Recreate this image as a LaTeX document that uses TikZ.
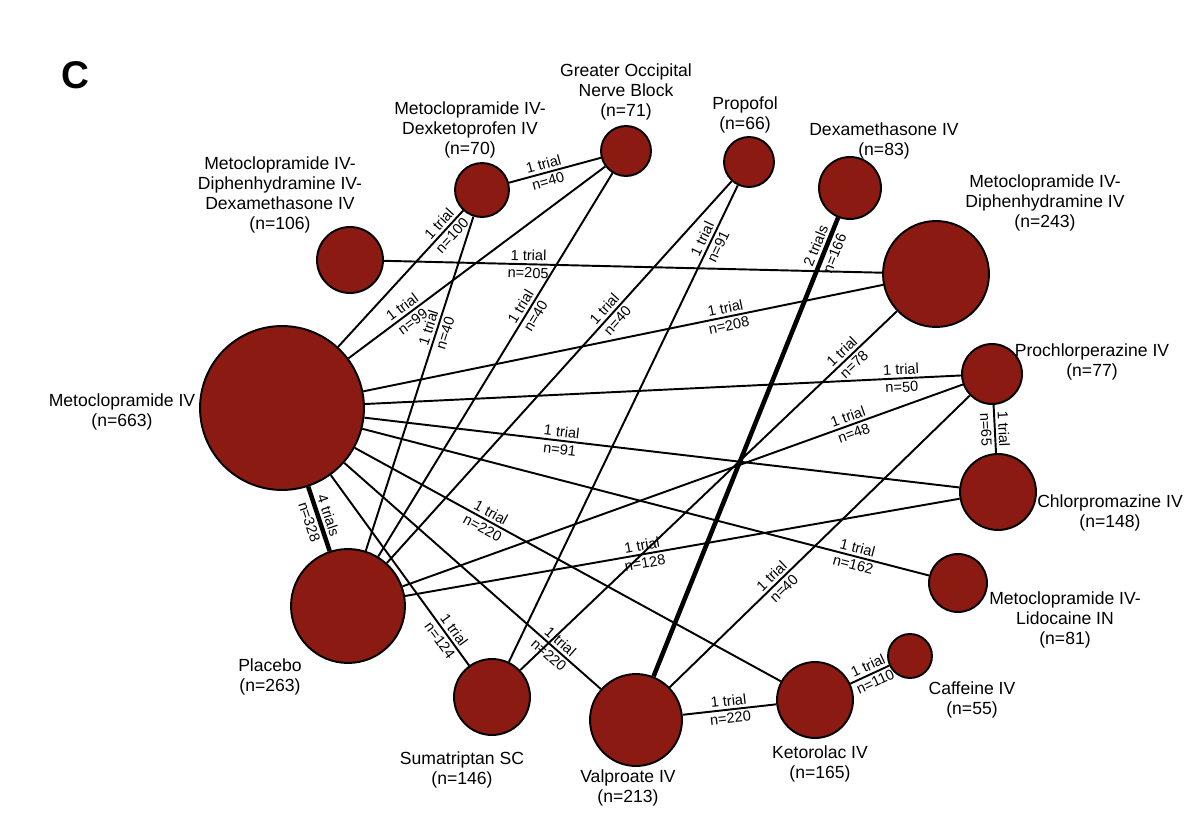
\documentclass[tikz,border=0pt]{standalone}
\usepackage{fontspec}
\setmainfont{Liberation Sans}
\definecolor{dred}{HTML}{8B1A12}
\begin{document}
\begin{tikzpicture}[x=0.02cm,y=-0.02cm,
  nd/.style={circle,draw=black,line width=1.1pt,fill=dred,minimum size=#1*0.04cm,inner sep=0pt},
  tx/.style={align=center,font=\fontsize{10}{11.5}\selectfont,inner sep=0pt},
  e/.style={line width=1.1pt},
  et/.style={line width=2.6pt},
  lab/.style={font=\fontsize{8.3}{9}\selectfont,sloped,inner sep=1.5pt}]
\useasboundingbox (0,0) rectangle (1200,837);
\node[font=\fontsize{22}{24}\selectfont\bfseries] (C) at (75,75) {C};
% nodes
\node[nd=82] (M) at (282,408) {};
\node[nd=57] (P) at (348,606) {};
\node[nd=38] (S) at (492,697) {};
\node[nd=46] (V) at (636,720) {};
\node[nd=38] (K) at (815,700) {};
\node[nd=22] (Cf) at (910,656) {};
\node[nd=29] (L) at (958,583) {};
\node[nd=38] (Ch) at (998,492) {};
\node[nd=30] (Pr) at (992,374) {};
\node[nd=53] (MD) at (936,274) {};
\node[nd=31] (Dx) at (850,188) {};
\node[nd=25] (Pf) at (749,162) {};
\node[nd=25] (G) at (626,151) {};
\node[nd=27] (MDk) at (482,190) {};
\node[nd=33] (MDD) at (350,260) {};
% texts
\node[tx] (tG) at (626,92) {Greater Occipital\\Nerve Block\\(n=71)};
\node[tx] (tMDk) at (470,130) {Metoclopramide IV-\\Dexketoprofen IV\\(n=70)};
\node[tx] (tPf) at (745,115) {Propofol\\(n=66)};
\node[tx] (tDx) at (884,141) {Dexamethasone IV\\(n=83)};
\node[tx] (tMDD) at (280,195) {Metoclopramide IV-\\Diphenhydramine IV-\\Dexamethasone IV\\(n=106)};
\node[tx] (tMD) at (1045,203) {Metoclopramide IV-\\Diphenhydramine IV\\(n=243)};
\node[tx] (tPr) at (1092,362) {Prochlorperazine IV\\(n=77)};
\node[tx] (tM) at (122,412) {Metoclopramide IV\\(n=663)};
\node[tx] (tCh) at (1110,513) {Chlorpromazine IV\\(n=148)};
\node[tx] (tL) at (1065,620) {Metoclopramide IV-\\Lidocaine IN\\(n=81)};
\node[tx] (tCf) at (972,700) {Caffeine IV\\(n=55)};
\node[tx] (tP) at (270,677) {Placebo\\(n=263)};
\node[tx] (tS) at (462,770) {Sumatriptan SC\\(n=146)};
\node[tx] (tV) at (628,788) {Valproate IV\\(n=213)};
\node[tx] (tK) at (820,764) {Ketorolac IV\\(n=165)};
% edges
\draw[et] (M) -- node[lab,pos=0.5,above]{4 trials} node[lab,pos=0.5,below]{n=328} (P);
\draw[et] (V) -- node[lab,pos=0.93,above]{2 trials} node[lab,pos=0.93,below]{n=166} (Dx);
\draw[e] (MDk) -- node[lab,pos=0.4,above]{1 trial} node[lab,pos=0.4,below]{n=40} (G);
\draw[e] (M) -- node[lab,pos=0.86,above]{1 trial} node[lab,pos=0.86,below]{n=100} (MDk);
\draw[e] (M) -- node[lab,pos=0.23,above]{1 trial} node[lab,pos=0.23,below]{n=99} (G);
\draw[e] (MDD) -- node[lab,pos=0.29,above]{1 trial} node[lab,pos=0.29,below]{n=205} (MD);
\draw[e] (P) -- node[lab,pos=0.66,above]{1 trial} node[lab,pos=0.66,below]{n=40} (MDk);
\draw[e] (P) -- node[lab,pos=0.64,above]{1 trial} node[lab,pos=0.64,below]{n=40} (G);
\draw[e] (P) -- node[lab,pos=0.65,above]{1 trial} node[lab,pos=0.65,below]{n=40} (Pf);
\draw[e] (S) -- node[lab,pos=0.88,above]{1 trial} node[lab,pos=0.88,below]{n=91} (Pf);
\draw[e] (M) -- node[lab,pos=0.70,above]{1 trial} node[lab,pos=0.70,below]{n=208} (MD);
\draw[e] (S) -- node[lab,pos=0.87,above]{1 trial} node[lab,pos=0.87,below]{n=78} (MD);
\draw[e] (M) -- node[lab,pos=0.9,above]{1 trial} node[lab,pos=0.9,below]{n=50} (Pr);
\draw[e] (Pr) -- node[lab,pos=0.5,above]{1 trial} node[lab,pos=0.5,below]{n=65} (Ch);
\draw[e] (M) -- node[lab,pos=0.33,above]{1 trial} node[lab,pos=0.33,below]{n=91} (Ch);
\draw[e] (P) -- node[lab,pos=0.8,above]{1 trial} node[lab,pos=0.8,below]{n=48} (Pr);
\draw[e] (P) -- node[lab,pos=0.43,above]{1 trial} node[lab,pos=0.43,below]{n=128} (Ch);
\draw[e] (V) -- node[lab,pos=0.36,above]{1 trial} node[lab,pos=0.36,below]{n=40} (Pr);
\draw[e] (M) -- node[lab,pos=0.87,above]{1 trial} node[lab,pos=0.87,below]{n=162} (L);
\draw[e] (M) -- node[lab,pos=0.31,above]{1 trial} node[lab,pos=0.31,below]{n=220} (K);
\draw[e] (M) -- node[lab,pos=0.84,above]{1 trial} node[lab,pos=0.84,below]{n=124} (S);
\draw[e] (M) -- node[lab,pos=0.82,above]{1 trial} node[lab,pos=0.82,below]{n=220} (V);
\draw[e] (V) -- node[lab,pos=0.5,above]{1 trial} node[lab,pos=0.5,below]{n=220} (K);
\draw[e] (K) -- node[lab,pos=0.55,above]{1 trial} node[lab,pos=0.55,below]{n=110} (Cf);
\end{tikzpicture}
\end{document}
